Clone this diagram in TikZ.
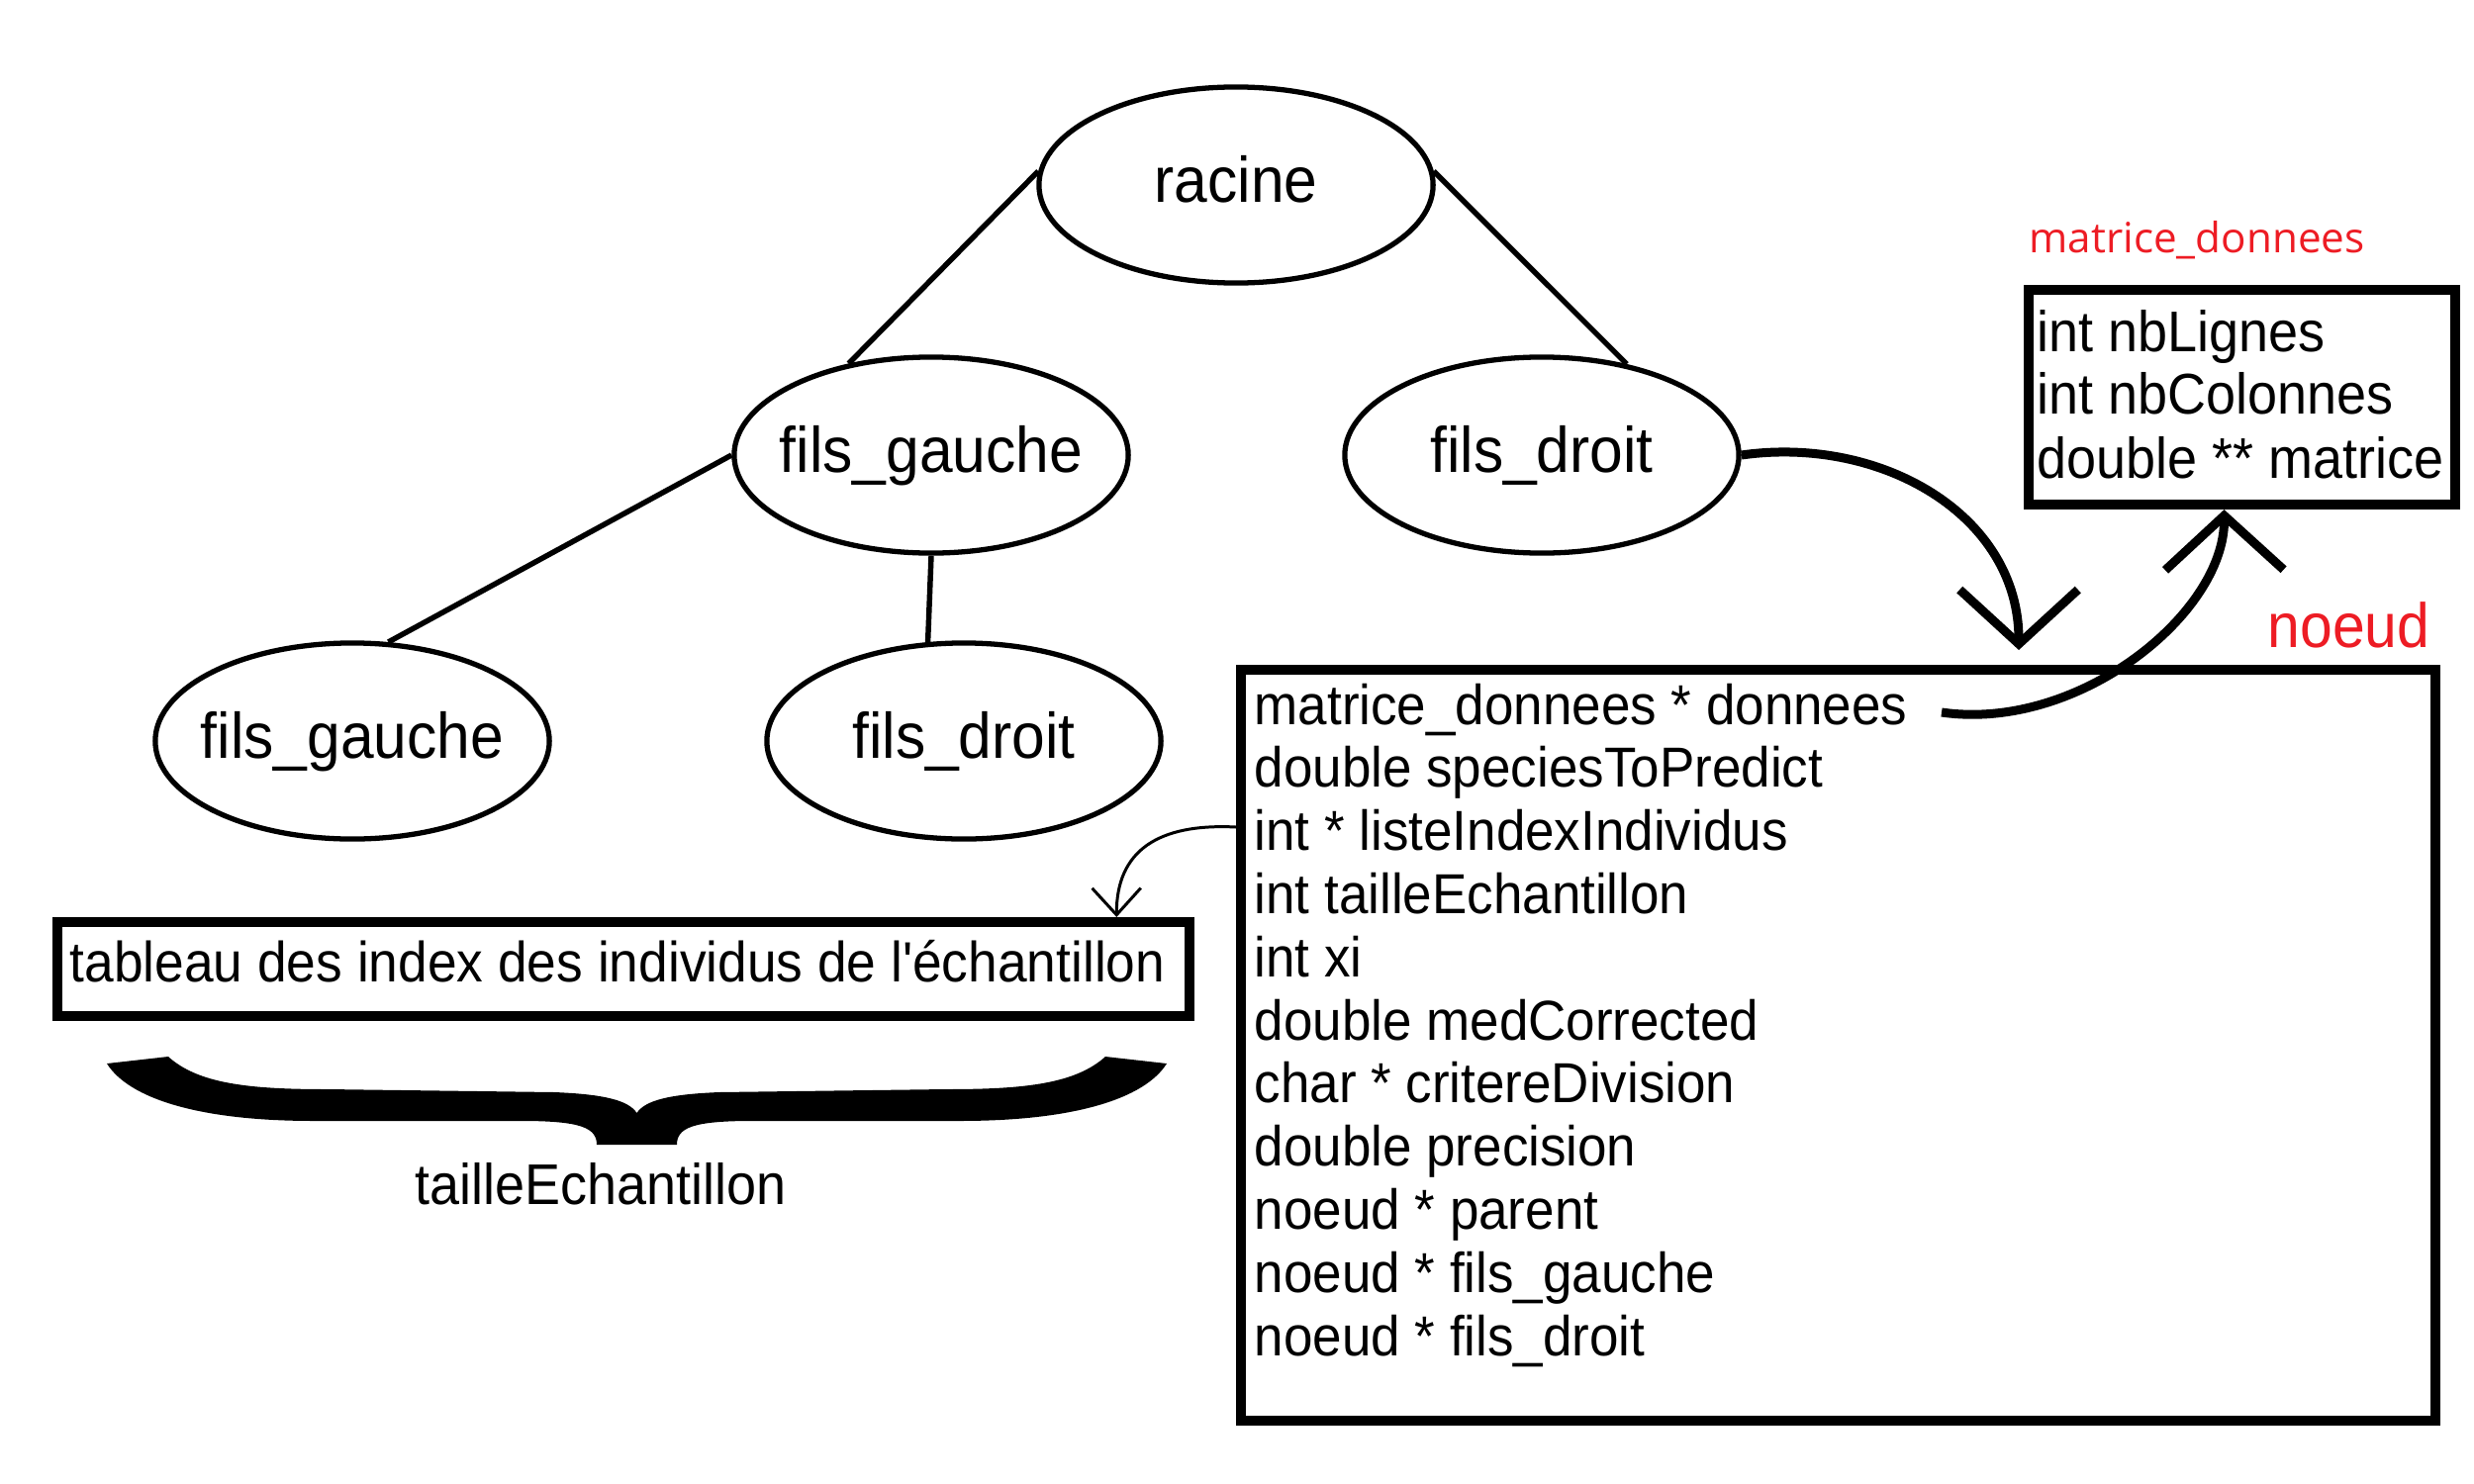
\documentclass[tikz,border=0pt]{standalone}
\usepackage{fontspec}
\newfontfamily\rob[FakeStretch=0.93]{Liberation Sans}
\newfontfamily\ops{Open Sans}
\usetikzlibrary{shapes.geometric,arrows.meta}
\definecolor{lblred}{RGB}{237,28,36}
\begin{document}
\begin{tikzpicture}[x=0.01cm,y=-0.01cm,
  tnode/.style={ellipse, draw, line width=1.5pt, minimum width=3.98cm, minimum height=1.98cm,
    inner sep=0pt, font=\rob\fontsize{18.5}{20}\selectfont, text height=13.9pt, text depth=3.7pt},
  treeedge/.style={line width=1.55pt},
  box/.style={draw, line width=2.85pt, rectangle, inner sep=0pt},
  txt/.style={font=\rob\fontsize{16.2}{18}\selectfont, inner sep=0pt, anchor=base west},
  mtxt/.style={font=\rob\fontsize{16.5}{18}\selectfont, inner sep=0pt, anchor=base west},
  redlbl/.style={text=lblred, inner sep=0pt, anchor=base west},
  bigarrow/.style={line width=2.56pt, -{Straight Barb[length=15.6pt,width=34pt]}},
  thinarrow/.style={line width=0.85pt, -{Straight Barb[length=7.7pt,width=14pt]}},
]
\useasboundingbox (0,0) rectangle (2500,1500);

% tree
\node[tnode] (racine) at (1249,187) {\makebox[0pt]{racine}};
\node[tnode] (fg) at (941,460) {\makebox[0pt]{fils\_gauche}};
\node[tnode] (fd) at (1558,460) {\makebox[0pt]{fils\_droit}};
\node[tnode] (fgg) at (356,749) {\makebox[0pt]{fils\_gauche}};
\node[tnode] (fgd) at (974,749) {\makebox[0pt]{fils\_droit}};
\draw[treeedge] (racine.176) -- (fg.132);
\draw[treeedge] (racine.4) -- (fd.47);
\draw[treeedge] (fg.west) -- (fgg.70);
\draw[treeedge] (fg.south) -- (fgd.110);

% boxes
\node[box, minimum width=4.31cm, minimum height=2.17cm] (mat) at (2265.5,401.5) {};
\node[box, minimum width=12.07cm, minimum height=7.59cm] (noeud) at (1857.5,1056.5) {};
\node[box, minimum width=11.44cm, minimum height=0.95cm] (tab) at (630,979.5) {};

% labels
\node[redlbl, font=\ops\fontsize{12}{14}\selectfont] (lmat) at (2050,255) {matrice\_donnees};
\node[redlbl, font=\rob\fontsize{18}{20}\selectfont] (lnoeud) at (2291,654) {noeud};

% matrice_donnees fields
\node[mtxt] (m1) at (2058,355) {int nbLignes};
\node[mtxt] (m2) at (2058,418) {int nbColonnes};
\node[mtxt] (m3) at (2058,483) {double ** matrice};

% noeud fields
\foreach \t [count=\i from 0] in {matrice\_donnees * donnees, double speciesToPredict,
  int * listeIndexIndividus, int tailleEchantillon, int xi, double medCorrected,
  char * critereDivision, double precision, noeud * parent, noeud * fils\_gauche,
  noeud * fils\_droit}
  \node[txt] (n\i) at (1267,732+63.8*\i) {\t};

% tableau
\node[txt, font=\rob\fontsize{16.3}{18}\selectfont] (tabtxt) at (70,992) {tableau des index des individus de l'échantillon};

% brace
\fill (108,1075) -- (170,1068) .. controls (200,1095) and (250,1101) .. (330,1101)
 -- (560,1104) .. controls (610,1106) and (635,1112) .. (643.5,1125)
 .. controls (652,1112) and (677,1106) .. (727,1104)
 -- (957,1101) .. controls (1037,1101) and (1087,1095) .. (1117,1068)
 -- (1179,1075) .. controls (1157,1110) and (1087,1133) .. (970,1133)
 -- (760,1133) .. controls (700,1133) and (684,1140) .. (684,1157)
 -- (603,1157) .. controls (603,1140) and (587,1133) .. (527,1133)
 -- (317,1133) .. controls (200,1133) and (130,1110) .. (108,1075) -- cycle;
\node[font=\rob\fontsize{16.5}{18}\selectfont, inner sep=0pt, anchor=base] (taille) at (607,1217) {tailleEchantillon};

% arrows
\coordinate (a1) at (2040,657);
\draw[bigarrow] (fd.east) .. controls (1900,440) and (2040,520) .. (a1);
\coordinate (dst) at (1962,720);
\draw[bigarrow] (dst) .. controls (2100,740) and (2248,620) .. ([xshift=-0.18cm]mat.south);
\coordinate (lst) at (1249,836);
\draw[thinarrow] (lst) .. controls (1170,832) and (1128,860) .. ([xshift=-0.79cm]tab.north east);
\end{tikzpicture}
\end{document}
